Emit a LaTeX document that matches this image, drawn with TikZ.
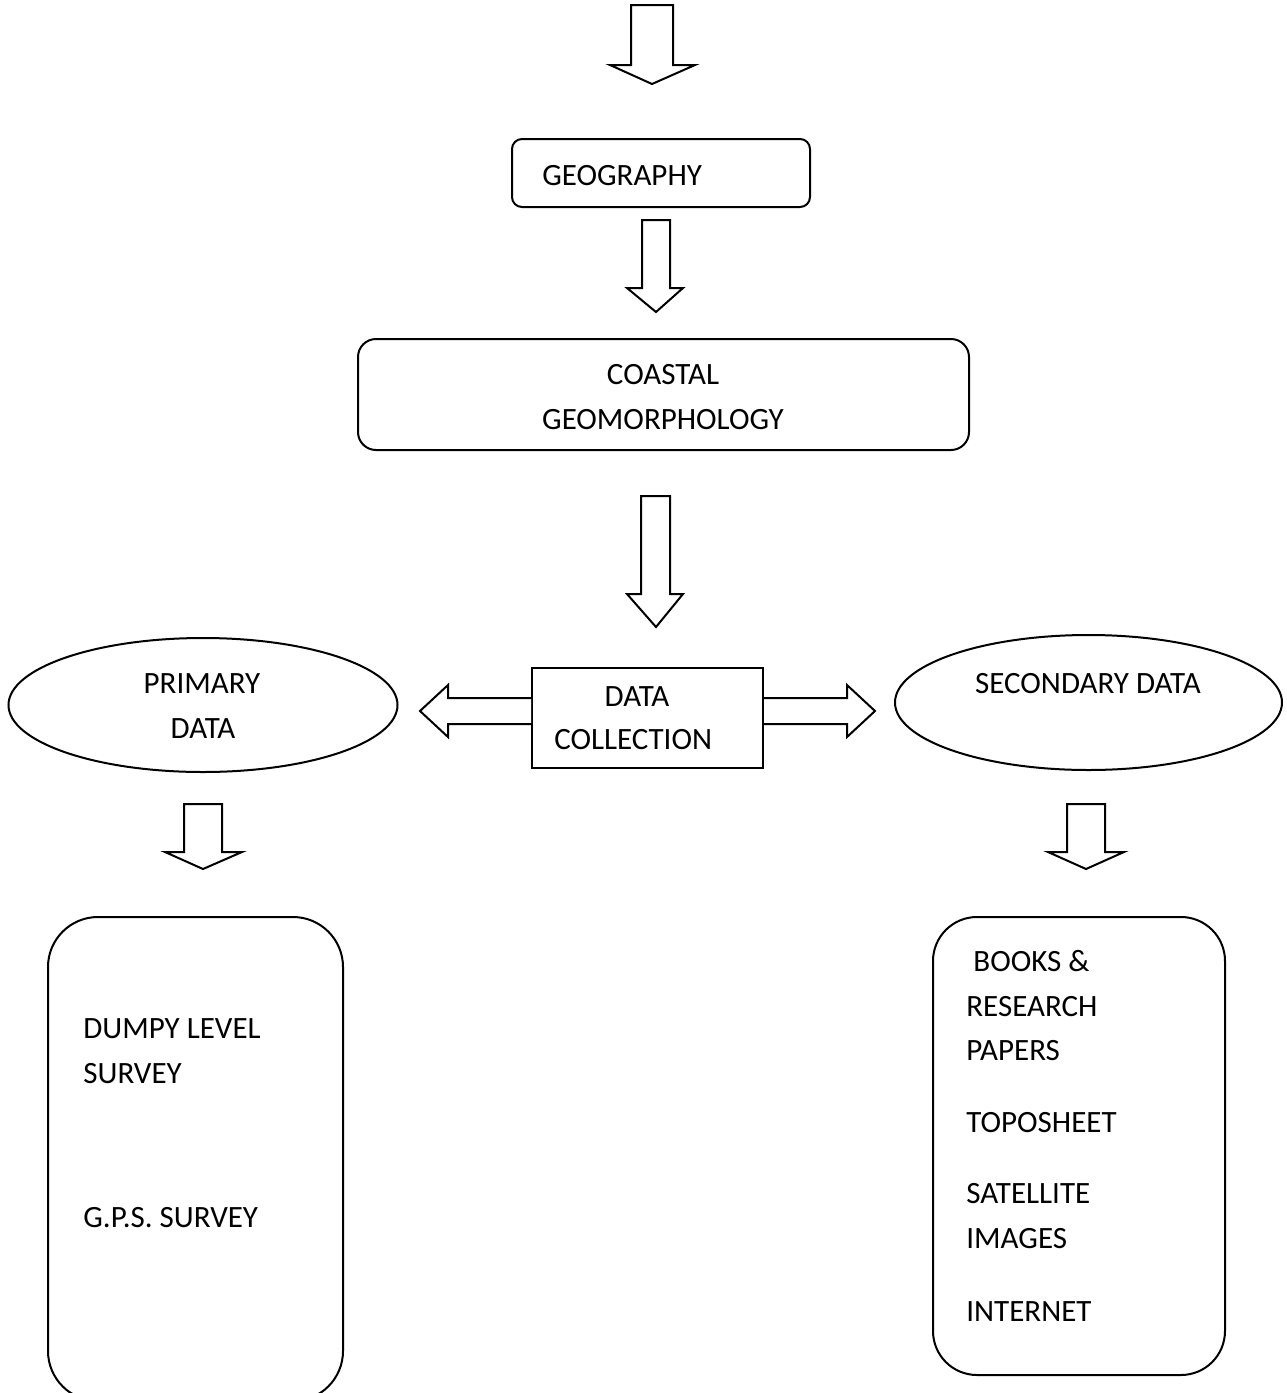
\documentclass[tikz,border=0pt]{standalone}
\usepackage{fontspec}
\setmainfont{Carlito}
\usepackage{tikz}
\usetikzlibrary{shapes.geometric}
\newcommand{\chartfont}{\fontsize{15.5}{18}\selectfont}
\tikzset{
  rbox/.style={draw, line width=1pt, inner sep=0pt},
  oval/.style={draw, ellipse, line width=1pt, inner sep=0pt},
  label/.style={inner sep=0pt, font=\chartfont},
  blockarrow/.style={draw, line width=1pt, fill=white, line join=miter}
}

\begin{document}
\begin{tikzpicture}[line cap=round,x=0.5pt,y=-0.5pt]
                \useasboundingbox (0,0) rectangle (1286,1393);
                \clip (0,0) rectangle (1286,1393);
                % block arrows going down
                \draw [blockarrow] (631,5)-- (631,65)-- (610,65)-- (652,84)-- (695,65)-- (673,65)-- (673,5)-- cycle;
                \draw [blockarrow] (642,220)-- (642,288)-- (627,288)-- (656,312)-- (683,288)-- (670,288)-- (670,220)-- cycle;
                \draw [blockarrow] (641,496)-- (641,594)-- (627,594)-- (656,627)-- (683,594)-- (670,594)-- (670,496)-- cycle;
                \draw [blockarrow] (184,804)-- (184,852)-- (165,852)-- (203,869)-- (242,852)-- (222,852)-- (222,804)-- cycle;
                \draw [blockarrow] (1067,804)-- (1067,852)-- (1048,852)-- (1086,869)-- (1124,852)-- (1105,852)-- (1105,804)-- cycle;
                % boxes
                \node (geo) [rbox, rounded corners=5pt, minimum width=149pt, minimum height=34pt] at (661,173) {};
                \node (coast) [rbox, rounded corners=9pt, minimum width=305.5pt, minimum height=55.5pt] at (663.5,394.5) {};
                \node (collect) [rbox, minimum width=115.5pt, minimum height=50pt] at (647.5,718) {};
                \node (primary) [oval, minimum width=194.5pt, minimum height=67pt] at (203,705) {};
                \node (secondary) [oval, minimum width=193.5pt, minimum height=67.5pt] at (1088.5,702.5) {};
                \node (fieldwork) [rbox, rounded corners=25pt, minimum width=147.5pt, minimum height=242pt] at (195.5,1159) {};
                \node (sources) [rbox, rounded corners=22pt, minimum width=146pt, minimum height=229pt] at (1079,1146) {};
                % side arrows out of the data collection box
                \draw [blockarrow] (collect.west |- 0,698)-- (448,698)-- (448,685)-- (420,711)-- (448,737)-- (448,724)-- (collect.west |- 0,724);
                \draw [blockarrow] (collect.east |- 0,698)-- (847,698)-- (847,685)-- (875,711)-- (847,737)-- (847,724)-- (collect.east |- 0,724);
                % texts
                \node (geotxt) [label, anchor=base west] at (542,185) {GEOGRAPHY};
                \node (coasttxt) [label, anchor=base] at (663,384) {COASTAL};
                \node (geomtxt) [label, anchor=base] at (663,429) {GEOMORPHOLOGY};
                \node (datatxt) [label, anchor=base] at (637,706) {DATA};
                \node (colltxt) [label, anchor=base west] at (554,749) {COLLECTION};
                \node (primtxt) [label, anchor=base] at (202,693) {PRIMARY};
                \node (primdatatxt) [label, anchor=base] at (203,738) {DATA};
                \node (sectxt) [label, anchor=base] at (1088,693) {SECONDARY DATA};
                \node (dumpytxt) [label, anchor=base west] at (83,1038) {DUMPY LEVEL};
                \node (surveytxt) [label, anchor=base west] at (83,1083) {SURVEY};
                \node (gpstxt) [label, anchor=base west] at (83,1227) {G.P.S. SURVEY};
                \node (bookstxt) [label, anchor=base west] at (973,971) {BOOKS \&};
                \node (researchtxt) [label, anchor=base west] at (966,1016) {RESEARCH};
                \node (paperstxt) [label, anchor=base west] at (966,1060) {PAPERS};
                \node (topotxt) [label, anchor=base west] at (966,1132) {TOPOSHEET};
                \node (sattxt) [label, anchor=base west] at (966,1203) {SATELLITE};
                \node (imagestxt) [label, anchor=base west] at (966,1248) {IMAGES};
                \node (nettxt) [label, anchor=base west] at (966,1321) {INTERNET};
\end{tikzpicture}
\end{document}
